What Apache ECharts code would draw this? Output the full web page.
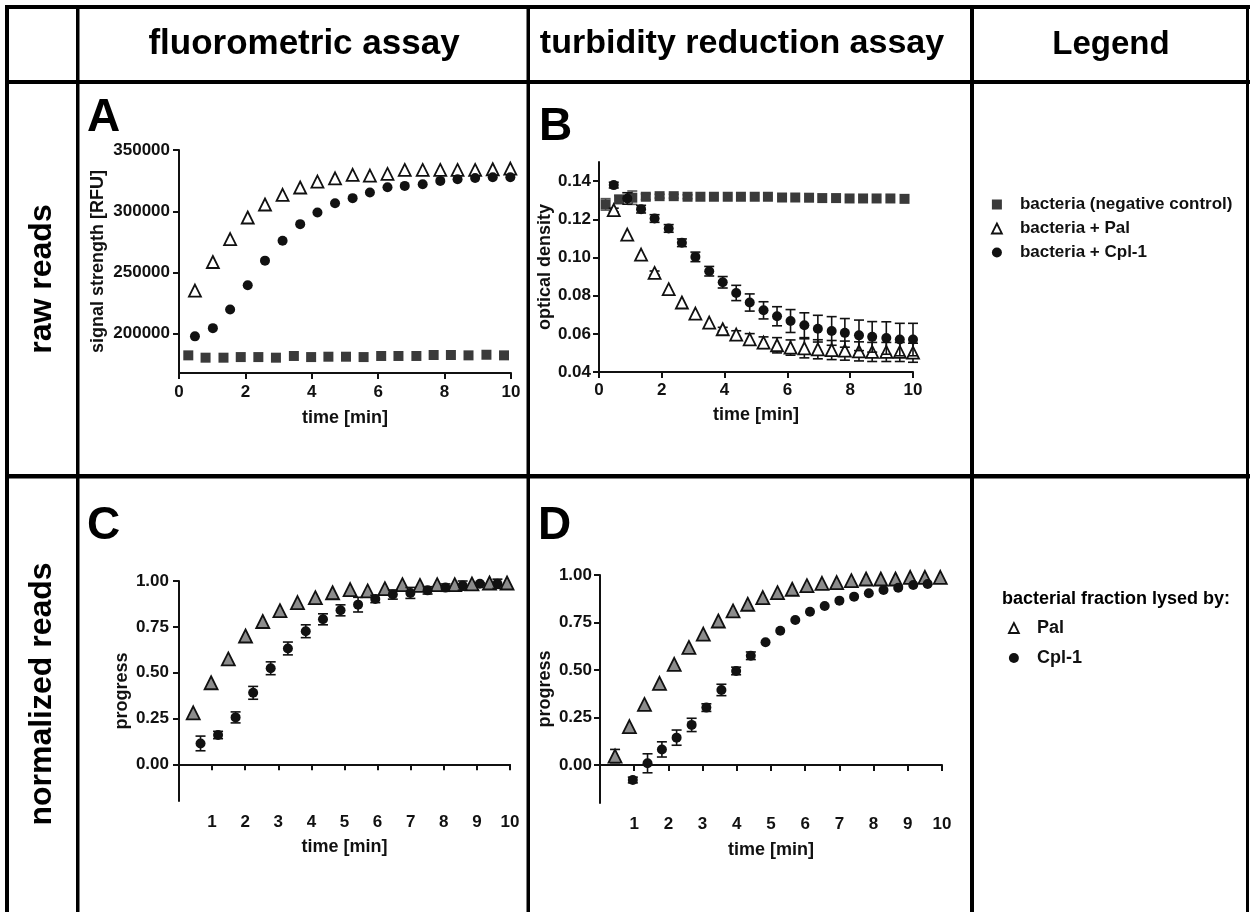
<!DOCTYPE html>
<html>
<head>
<meta charset="utf-8">
<script src="https://cdn.jsdelivr.net/npm/echarts@6/dist/echarts.min.js"></script>
<style>
  html, body { margin: 0; padding: 0; background: #fff; }
  #chart { width: 1250px; height: 912px; }
</style>
</head>
<body>
<div id="chart"></div>
<script>
// ---- panel A: fluorometric assay, raw reads (RFU) ----
const aCtrlTime = [0.28, 0.80, 1.34, 1.86, 2.39, 2.92, 3.46, 3.98, 4.50, 5.03, 5.56, 6.09, 6.61, 7.15, 7.67, 8.19, 8.72, 9.26, 9.79];
const aCtrl = [182400, 180500, 180500, 181000, 181000, 180500, 181900, 181000, 181300, 181300, 181000, 181900, 181900, 181900, 182700, 182700, 182400, 182900, 182400];
const aTime = [0.48, 1.02, 1.54, 2.07, 2.59, 3.12, 3.65, 4.17, 4.70, 5.23, 5.75, 6.28, 6.80, 7.34, 7.87, 8.39, 8.92, 9.45, 9.98];
const aPal = [235300, 258600, 277300, 294900, 305500, 313400, 319400, 324200, 326900, 329700, 329100, 330500, 333700, 333700, 333700, 333700, 333700, 334300, 334800];
const aCpl = [197900, 204600, 219800, 239600, 259700, 276000, 289500, 299000, 306600, 310700, 315300, 319600, 320700, 322100, 324800, 326100, 327200, 327800, 327800];
const aYTicks = [200000, 250000, 300000, 350000];

// ---- panel B: turbidity reduction, raw reads (OD) ----
const bCtrlTime = [0.21, 0.64, 1.06, 1.49, 1.93, 2.38, 2.82, 3.23, 3.66, 4.10, 4.52, 4.96, 5.38, 5.83, 6.25, 6.69, 7.11, 7.55, 7.98, 8.41, 8.84, 9.28, 9.73];
const bCtrl = [0.1278, 0.1304, 0.1313, 0.1318, 0.1321, 0.1321, 0.1318, 0.1318, 0.1318, 0.1318, 0.1318, 0.1318, 0.1318, 0.1314, 0.1314, 0.1313, 0.1311, 0.1311, 0.1309, 0.1309, 0.1309, 0.1309, 0.1307];
const bCtrlErr = [0.003, 0.002, 0.0035, 0.0015, 0.001, 0.001, 0.001, 0, 0, 0, 0, 0, 0, 0, 0, 0, 0, 0, 0, 0, 0, 0, 0];
const bTime = [0.47, 0.90, 1.34, 1.77, 2.22, 2.64, 3.07, 3.51, 3.94, 4.37, 4.80, 5.24, 5.67, 6.10, 6.54, 6.97, 7.41, 7.83, 8.28, 8.70, 9.15, 9.58, 10.0];
const bPal = [0.1248, 0.1120, 0.1015, 0.0919, 0.0834, 0.0764, 0.0706, 0.0659, 0.0624, 0.0596, 0.0571, 0.0554, 0.0540, 0.0528, 0.0524, 0.0519, 0.0515, 0.0512, 0.0508, 0.0505, 0.0505, 0.0505, 0.0501];
const bPalErr = [0.001, 0, 0, 0.001, 0, 0, 0, 0, 0.001, 0.002, 0.003, 0.003, 0.004, 0.004, 0.005, 0.005, 0.005, 0.005, 0.005, 0.005, 0.005, 0.005, 0.005];
const bCpl = [0.1379, 0.1309, 0.1253, 0.1204, 0.1152, 0.1077, 0.1003, 0.0928, 0.0870, 0.0814, 0.0764, 0.0723, 0.0692, 0.0667, 0.0645, 0.0627, 0.0615, 0.0605, 0.0592, 0.0584, 0.0578, 0.0570, 0.0570];
const bCplErr = [0.0015, 0.003, 0.002, 0.002, 0.002, 0.002, 0.0025, 0.0025, 0.003, 0.004, 0.0045, 0.0045, 0.005, 0.006, 0.0065, 0.007, 0.0075, 0.0075, 0.008, 0.008, 0.0085, 0.0085, 0.0085];
const bYTicks = [0.04, 0.06, 0.08, 0.10, 0.12, 0.14];

// ---- panel C: fluorometric, normalized ----
const cPalTime = [0.43, 0.97, 1.49, 2.01, 2.53, 3.05, 3.58, 4.12, 4.64, 5.17, 5.70, 6.22, 6.75, 7.28, 7.80, 8.33, 8.85, 9.38, 9.91];
const cPal = [0.281, 0.445, 0.575, 0.700, 0.779, 0.838, 0.882, 0.909, 0.936, 0.953, 0.946, 0.958, 0.980, 0.976, 0.980, 0.980, 0.984, 0.989, 0.989];
const cCplTime = [0.65, 1.18, 1.71, 2.24, 2.77, 3.29, 3.83, 4.35, 4.88, 5.41, 5.93, 6.46, 6.99, 7.51, 8.05, 8.57, 9.09, 9.62];
const cCpl = [0.114, 0.160, 0.256, 0.390, 0.524, 0.632, 0.726, 0.791, 0.840, 0.871, 0.902, 0.926, 0.935, 0.949, 0.964, 0.975, 0.985, 0.985];
const cCplErr = [0.04, 0.02, 0.03, 0.035, 0.035, 0.035, 0.035, 0.03, 0.03, 0.04, 0.02, 0.025, 0.03, 0.02, 0.02, 0.025, 0.005, 0.025];

// ---- panel D: turbidity, normalized ----
const dPalTime = [0.44, 0.86, 1.30, 1.74, 2.17, 2.60, 3.02, 3.46, 3.89, 4.32, 4.76, 5.19, 5.62, 6.05, 6.49, 6.92, 7.35, 7.78, 8.21, 8.64, 9.07, 9.50, 9.95];
const dPal = [0.047, 0.202, 0.319, 0.430, 0.530, 0.619, 0.689, 0.758, 0.811, 0.846, 0.881, 0.907, 0.925, 0.944, 0.956, 0.960, 0.970, 0.979, 0.979, 0.979, 0.988, 0.988, 0.988];
const dPalErr = [0.035, 0, 0, 0, 0, 0, 0, 0, 0, 0, 0, 0, 0, 0, 0, 0, 0, 0, 0, 0, 0, 0, 0];
const dCplTime = [0.96, 1.39, 1.81, 2.24, 2.68, 3.11, 3.55, 3.98, 4.41, 4.84, 5.27, 5.71, 6.14, 6.57, 7.00, 7.43, 7.86, 8.29, 8.72, 9.16, 9.58];
const dCpl = [-0.079, 0.009, 0.082, 0.144, 0.211, 0.302, 0.395, 0.495, 0.575, 0.646, 0.707, 0.763, 0.807, 0.837, 0.865, 0.886, 0.904, 0.921, 0.933, 0.947, 0.953];
const dCplErr = [0.015, 0.05, 0.04, 0.04, 0.035, 0.02, 0.03, 0.02, 0.02, 0, 0, 0, 0, 0, 0, 0, 0, 0, 0, 0, 0];
const normTicks = [0, 0.25, 0.5, 0.75, 1.0];

const FONT = '"Liberation Sans", Arial, sans-serif';
const INK = '#111';
const GREY_SQ = '#3a3a3a';

const chart = echarts.init(document.getElementById('chart'), null, { renderer: 'canvas' });

const nameStyle = { fontFamily: FONT, fontWeight: 'bold', fontSize: 18, color: INK };
const lineStyle = { color: INK, width: 2 };

function xAx(grid, interval, gap, margin, hideMin) {
  return {
    type: 'value', gridIndex: grid, min: 0, max: 10, interval,
    name: 'time [min]', nameLocation: 'middle', nameGap: gap, nameTextStyle: nameStyle,
    axisLine: { show: true, onZero: true, lineStyle },
    axisTick: { show: true, length: 6, lineStyle },
    axisLabel: { margin, showMinLabel: !hideMin, fontFamily: FONT, fontWeight: 'bold', fontSize: 17, color: INK },
    splitLine: { show: false },
  };
}

function yAx(grid, min, max, vals, name, gap, margin, fmt) {
  return {
    type: 'value', gridIndex: grid, min, max,
    name, nameLocation: 'middle', nameGap: gap, nameTextStyle: nameStyle,
    axisLine: { show: true, onZero: false, lineStyle },
    axisTick: { show: true, length: 6, customValues: vals, lineStyle },
    axisLabel: { customValues: vals, formatter: fmt, margin, fontFamily: FONT, fontWeight: 'bold', fontSize: 17, color: INK },
    splitLine: { show: false },
  };
}

function pts(t, v) {
  return t.map((x, i) => [x, v[i]]);
}

const SYM = {
  ctrl: { symbol: 'rect', symbolSize: 10, itemStyle: { color: GREY_SQ, opacity: 1 } },
  palOpen: { symbol: 'triangle', symbolSize: 12, itemStyle: { color: '#fff', borderColor: INK, borderWidth: 1.8, opacity: 1 } },
  palGrey: { symbol: 'triangle', symbolSize: 13, itemStyle: { color: '#8c8c8c', borderColor: INK, borderWidth: 1.8, opacity: 1 } },
  cpl: { symbol: 'circle', symbolSize: 10, itemStyle: { color: INK, opacity: 1 } },
};

function scatter(idx, name, t, v, sym, z) {
  return Object.assign({
    type: 'scatter', name, xAxisIndex: idx, yAxisIndex: idx, z,
    data: pts(t, v), silent: true, animation: false,
  }, sym);
}

function errBars(idx, t, v, e, color, z) {
  const data = [];
  t.forEach((x, i) => {
    if (e[i] > 0) data.push([x, v[i] - e[i], v[i] + e[i]]);
  });
  return {
    type: 'custom', xAxisIndex: idx, yAxisIndex: idx, z, silent: true, animation: false,
    data,
    encode: { x: 0, y: [1, 2] },
    renderItem: (params, api) => {
      const x = api.value(0);
      const lo = api.coord([x, api.value(1)]);
      const hi = api.coord([x, api.value(2)]);
      const w = 5;
      const style = { stroke: color, lineWidth: 1.6 };
      return {
        type: 'group',
        children: [
          { type: 'line', shape: { x1: lo[0], y1: lo[1], x2: hi[0], y2: hi[1] }, style },
          { type: 'line', shape: { x1: lo[0] - w, y1: lo[1], x2: lo[0] + w, y2: lo[1] }, style },
          { type: 'line', shape: { x1: hi[0] - w, y1: hi[1], x2: hi[0] + w, y2: hi[1] }, style },
        ],
      };
    },
  };
}

// table frame
const frame = [
  [5, 5, 1245, 4], [5, 5, 4, 907], [76, 5, 3.5, 907], [526.5, 5, 3.5, 907],
  [970, 5, 4, 907], [1246, 5, 3, 907], [5, 80, 1245, 4], [5, 474, 1245, 4.5],
].map(r => ({ type: 'rect', shape: { x: r[0], y: r[1], width: r[2], height: r[3] }, style: { fill: '#000' }, silent: true }));

function txt(text, x, y, size, align, opts) {
  return Object.assign({
    type: 'text', x, y, silent: true,
    style: { text, fontFamily: FONT, fontWeight: 'bold', fontSize: size, fill: '#000', align: align || 'center', verticalAlign: 'middle' },
  }, opts || {});
}

const labels = [
  txt('fluorometric assay', 304, 44, 35),
  txt('turbidity reduction assay', 742, 44, 34),
  txt('Legend', 1111, 45, 33),
  txt('raw reads', 42, 279, 32, 'center', { rotation: Math.PI / 2 }),
  txt('normalized reads', 42, 694, 32, 'center', { rotation: Math.PI / 2 }),
  txt('A', 87, 118.5, 46, 'left'),
  txt('B', 539, 127, 46, 'left'),
  txt('C', 87, 526, 46, 'left'),
  txt('D', 538, 526, 46, 'left'),
  txt('bacterial fraction lysed by:', 1002, 599, 18, 'left'),
];

const legendText = { fontFamily: FONT, fontWeight: 'bold', fontSize: 17, color: INK, padding: [0, 0, 0, 13] };

const option = {
  backgroundColor: '#fff',
  animation: false,
  grid: [
    { left: 179, top: 150, width: 332, height: 223 },
    { left: 599, top: 162, width: 314, height: 210 },
    { left: 179, top: 581, width: 331, height: 220 },
    { left: 600, top: 575, width: 342, height: 228 },
  ],
  xAxis: [
    xAx(0, 2, 36, 11, false),
    xAx(1, 2, 34, 10, false),
    xAx(2, 1, 37, 13, true),
    xAx(3, 1, 38, 13, true),
  ],
  yAxis: [
    yAx(0, 168000, 350000, aYTicks, 'signal strength [RFU]', 72, 9, v => String(v)),
    yAx(1, 0.04, 0.15, bYTicks, 'optical density', 45, 8, v => v.toFixed(2)),
    yAx(2, -0.2, 1.0, normTicks, 'progress', 48, 10, v => v.toFixed(2)),
    yAx(3, -0.2, 1.0, normTicks, 'progress', 46, 8, v => v.toFixed(2)),
  ],
  legend: [
    {
      left: 986, top: 191, orient: 'vertical', itemWidth: 10, itemHeight: 10, itemGap: 7,
      selectedMode: false, textStyle: legendText,
      data: [
        { name: 'bacteria (negative control)', icon: 'rect', itemStyle: { color: GREY_SQ, borderWidth: 0 } },
        { name: 'bacteria + Pal', icon: 'triangle', itemStyle: { color: '#fff', borderColor: INK, borderWidth: 1.8 } },
        { name: 'bacteria + Cpl-1', icon: 'circle', itemStyle: { color: INK, borderWidth: 0 } },
      ],
    },
    {
      left: 1003, top: 614, orient: 'vertical', itemWidth: 10, itemHeight: 10, itemGap: 12,
      selectedMode: false, textStyle: Object.assign({}, legendText, { fontSize: 18 }),
      data: [
        { name: 'Pal', icon: 'triangle', itemStyle: { color: '#fff', borderColor: INK, borderWidth: 1.8 } },
        { name: 'Cpl-1', icon: 'circle', itemStyle: { color: INK, borderWidth: 0 } },
      ],
    },
  ],
  graphic: frame.concat(labels),
  series: [
    // A
    scatter(0, 'bacteria (negative control)', aCtrlTime, aCtrl, SYM.ctrl, 2),
    scatter(0, 'bacteria + Pal', aTime, aPal, SYM.palOpen, 3),
    scatter(0, 'bacteria + Cpl-1', aTime, aCpl, SYM.cpl, 4),
    // B
    errBars(1, bCtrlTime, bCtrl, bCtrlErr, '#555', 2),
    scatter(1, 'bacteria (negative control)', bCtrlTime, bCtrl, SYM.ctrl, 2),
    errBars(1, bTime, bPal, bPalErr, INK, 3),
    scatter(1, 'bacteria + Pal', bTime, bPal, SYM.palOpen, 3),
    errBars(1, bTime, bCpl, bCplErr, INK, 4),
    scatter(1, 'bacteria + Cpl-1', bTime, bCpl, SYM.cpl, 4),
    // C
    scatter(2, 'Pal', cPalTime, cPal, SYM.palGrey, 3),
    errBars(2, cCplTime, cCpl, cCplErr, INK, 4),
    scatter(2, 'Cpl-1', cCplTime, cCpl, SYM.cpl, 4),
    // D
    errBars(3, dPalTime, dPal, dPalErr, INK, 3),
    scatter(3, 'Pal', dPalTime, dPal, SYM.palGrey, 3),
    errBars(3, dCplTime, dCpl, dCplErr, INK, 4),
    scatter(3, 'Cpl-1', dCplTime, dCpl, SYM.cpl, 4),
  ],
};

chart.setOption(option);
</script>
</body>
</html>
